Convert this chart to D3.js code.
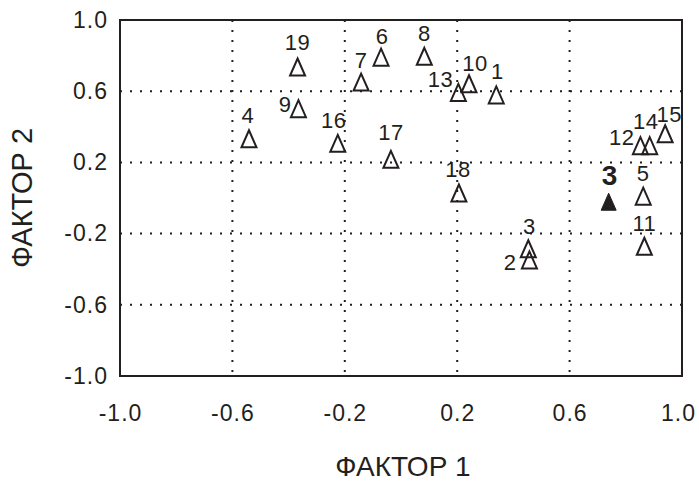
<!DOCTYPE html>
<html>
<head>
<meta charset="utf-8">
<script src="https://d3js.org/d3.v7.min.js"></script>
<style>
  body { margin: 0; background: #fff; }
  text { font-family: "Liberation Sans", Arial, sans-serif; fill: #231f20; }
</style>
</head>
<body>
<svg width="699" height="482"></svg>
<script>
// factor loadings
const ids = ["1","2","3","4","5","6","7","8","9","10","11","12","13","14","15","16","17","18","19"];
const f1 = [0.339, 0.457, 0.453, -0.541, 0.862, -0.071, -0.142, 0.083, -0.365, 0.242,
            0.866, 0.852, 0.204, 0.885, 0.940, -0.225, -0.036, 0.206, -0.368];
const f2 = [0.579, -0.348, -0.285, 0.333, 0.010, 0.791, 0.651, 0.796, 0.502, 0.642,
            -0.271, 0.294, 0.593, 0.294, 0.361, 0.307, 0.217, 0.028, 0.736];

// the filled marker
const hiLabel = ["3"];
const hiF1 = [0.739];
const hiF2 = [-0.021];

const tickVals = [-1.0, -0.6, -0.2, 0.2, 0.6, 1.0];
const gridVals = [-0.6, -0.2, 0.2, 0.6];
const xTitle = "ФАКТОР 1";
const yTitle = "ФАКТОР 2";

const points = ids.map((d, i) => ({id: d, x: f1[i], y: f2[i]}));

// label placement [dx, dy, anchor]
const labelPos = {
  "1": [1,-16,"middle"], "2": [-13,10,"end"], "3": [1,-15,"middle"], "4": [-1,-16,"middle"],
  "5": [0,-15,"middle"], "6": [1,-13,"middle"], "7": [0,-14,"middle"], "8": [0,-15,"middle"],
  "9": [-7,3,"end"], "10": [6,-13,"middle"], "11": [0,-15,"middle"], "12": [-6,-1,"end"],
  "13": [-5,-5,"end"], "14": [-4,-17,"middle"], "15": [4,-12,"middle"], "16": [-4,-15,"middle"],
  "17": [0,-19,"middle"], "18": [-1,-16,"middle"], "19": [0,-17,"middle"]
};

const svg = d3.select("svg");
const margin = {top: 20, left: 120, right: 17, bottom: 106};
const width = 699 - margin.left - margin.right;
const height = 482 - margin.top - margin.bottom;

const xScale = d3.scaleLinear().domain([-1, 1]).range([0, width]);
const yScale = d3.scaleLinear().domain([-1, 1]).range([height, 0]);

const g = svg.append("g").attr("transform", `translate(${margin.left},${margin.top})`);

// dotted grid
g.selectAll(".vgrid").data(gridVals).enter().append("line")
  .attr("x1", d => xScale(d)).attr("x2", d => xScale(d))
  .attr("y1", 0).attr("y2", height)
  .attr("stroke", "#231f20").attr("stroke-width", 2).attr("stroke-dasharray", "2,8");
g.selectAll(".hgrid").data(gridVals).enter().append("line")
  .attr("y1", d => yScale(d)).attr("y2", d => yScale(d))
  .attr("x1", 0).attr("x2", width)
  .attr("stroke", "#231f20").attr("stroke-width", 2).attr("stroke-dasharray", "2,8");

g.append("rect")
  .attr("width", width).attr("height", height)
  .attr("fill", "none").attr("stroke", "#231f20").attr("stroke-width", 2);

const fmt = d => d.toFixed(1);

const xAxis = g.append("g").attr("transform", `translate(0,${height})`)
  .call(d3.axisBottom(xScale).tickValues(tickVals).tickSize(0).tickPadding(29).tickFormat(fmt));
const yAxis = g.append("g")
  .call(d3.axisLeft(yScale).tickValues(tickVals).tickSize(0).tickPadding(12).tickFormat(fmt));
[xAxis, yAxis].forEach(a => {
  a.select(".domain").remove();
  a.selectAll("text").style("font-size", "23px").style("font-family", "Liberation Sans, Arial, sans-serif")
   .style("letter-spacing", "1px").attr("fill", "#231f20");
});
// keep the last label inside the page
xAxis.selectAll("text").attr("dx", d => d === 1 ? -4 : 0);

svg.append("text").text(xTitle)
  .attr("x", margin.left + width / 2 + 2).attr("y", 476)
  .attr("text-anchor", "middle").style("font-size", "28px");
svg.append("text").text(yTitle)
  .attr("transform", `translate(32,${margin.top + height / 2}) rotate(-90)`)
  .attr("text-anchor", "middle").style("font-size", "29px");

const tri = "M0,-8.5L7.5,8.5L-7.5,8.5Z";

g.selectAll(".pt").data(points).enter().append("path")
  .attr("class", "pt")
  .attr("d", tri)
  .attr("transform", d => `translate(${xScale(d.x)},${yScale(d.y)})`)
  .attr("fill", "none").attr("stroke", "#231f20").attr("stroke-width", 2);

g.selectAll(".lbl").data(points).enter().append("text")
  .attr("class", "lbl")
  .attr("x", d => xScale(d.x) + labelPos[d.id][0])
  .attr("y", d => yScale(d.y) + labelPos[d.id][1])
  .attr("text-anchor", d => labelPos[d.id][2])
  .style("font-size", "22px").style("letter-spacing", "0.5px")
  .text(d => d.id);

const hi = hiLabel.map((d, i) => ({id: d, x: hiF1[i], y: hiF2[i]}));
g.selectAll(".hi").data(hi).enter().append("path")
  .attr("d", tri)
  .attr("transform", d => `translate(${xScale(d.x)},${yScale(d.y)})`)
  .attr("fill", "#231f20").attr("stroke", "#231f20").attr("stroke-width", 1);
g.selectAll(".hil").data(hi).enter().append("text")
  .attr("x", d => xScale(d.x) + 1)
  .attr("y", d => yScale(d.y) - 17)
  .attr("text-anchor", "middle")
  .style("font-size", "28px").style("font-weight", "bold")
  .text(d => d.id);
</script>
</body>
</html>
